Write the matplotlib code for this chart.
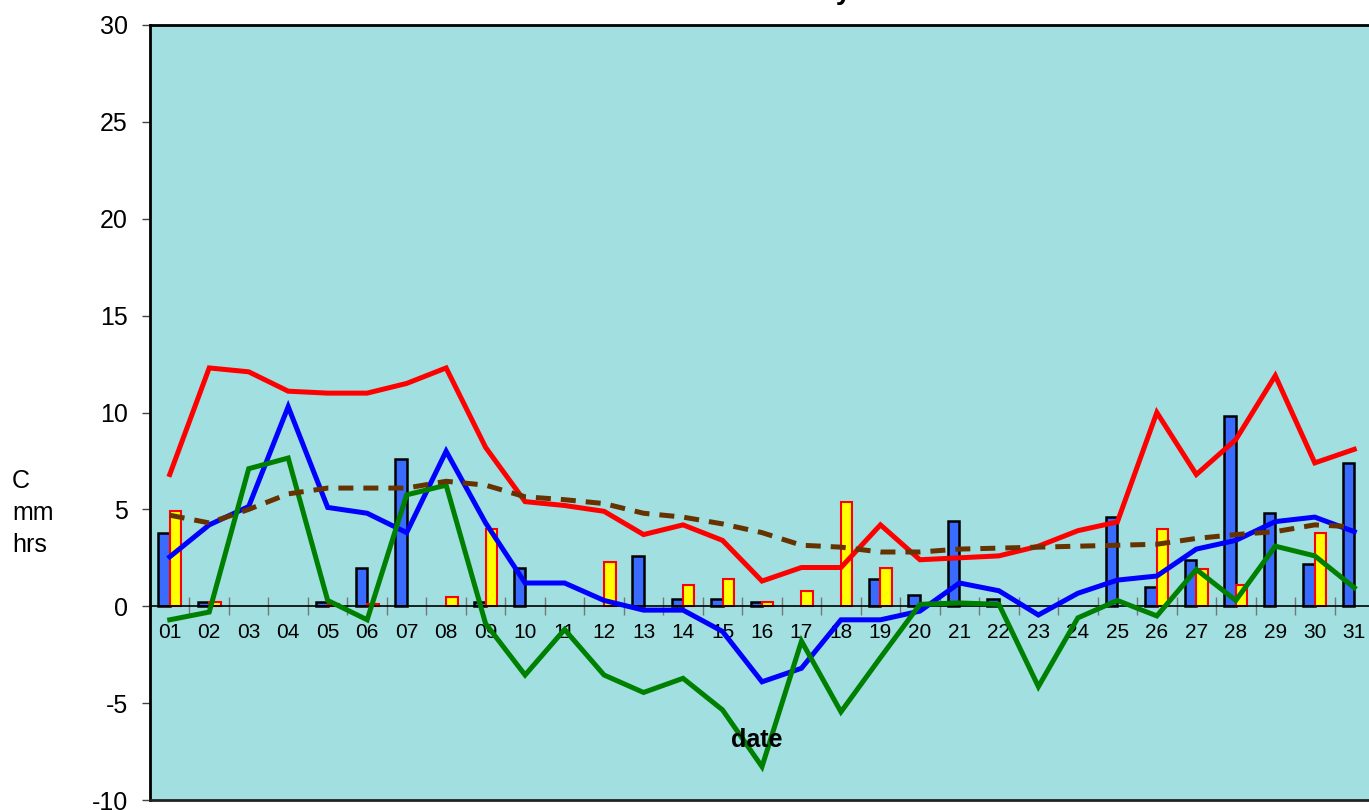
import matplotlib
matplotlib.use("Agg")
import matplotlib.pyplot as plt
import numpy as np

plt.rcParams['font.family'] = ['Liberation Sans', 'DejaVu Sans']
plt.rcParams['axes.unicode_minus'] = False

days = ["01", "02", "03", "04", "05", "06", "07", "08", "09", "10",
        "11", "12", "13", "14", "15", "16", "17", "18", "19", "20",
        "21", "22", "23", "24", "25", "26", "27", "28", "29", "30", "31"]

temp_max = [6.8, 12.3, 12.1, 11.1, 11.0, 11.0, 11.5, 12.3, 8.2, 5.4,
            5.2, 4.9, 3.7, 4.2, 3.4, 1.3, 2.0, 2.0, 4.2, 2.4,
            2.5, 2.6, 3.1, 3.9, 4.35, 10.0, 6.8, 8.6, 11.9, 7.4, 8.1]
temp_mean = [2.55, 4.2, 5.15, 10.3, 5.1, 4.8, 3.8, 8.0, 4.3, 1.2,
             1.2, 0.3, -0.2, -0.2, -1.3, -3.9, -3.2, -0.7, -0.7, -0.25,
             1.2, 0.8, -0.45, 0.67, 1.35, 1.56, 2.95, 3.4, 4.37, 4.6, 3.85]
temp_min = [-0.7, -0.3, 7.1, 7.65, 0.3, -0.7, 5.75, 6.25, -0.9, -3.55,
            -1.2, -3.55, -4.45, -3.72, -5.35, -8.28, -1.8, -5.45, -2.65, 0.1,
            0.17, 0.1, -4.15, -0.6, 0.3, -0.5, 1.9, 0.3, 3.1, 2.6, 0.96]
temp_avg = [4.7, 4.3, 5.0, 5.8, 6.1, 6.1, 6.1, 6.45, 6.25, 5.65,
            5.5, 5.3, 4.8, 4.6, 4.25, 3.8, 3.15, 3.05, 2.8, 2.8,
            2.95, 3.0, 3.05, 3.1, 3.15, 3.2, 3.5, 3.7, 3.85, 4.2, 4.1]
rain_mm = [3.8, 0.2, 0, 0, 0.2, 2.0, 7.6, 0, 0.2, 2.0,
           0, 0, 2.6, 0.4, 0.4, 0.2, 0, 0, 1.4, 0.6,
           4.4, 0.4, 0, 0, 4.6, 1.0, 2.4, 9.8, 4.8, 2.2, 7.4]
sun_hrs = [4.9, 0.2, 0, 0, 0.1, 0.1, 0, 0.5, 4.0, 0,
           0, 2.3, 0, 1.1, 1.4, 0.2, 0.8, 5.4, 2.0, 0,
           0, 0, 0, 0, 0, 4.0, 1.9, 1.1, 0, 3.8, 0]

W, H = 1369, 810
fig = plt.figure(figsize=(W / 100, H / 100), dpi=100)
ax = fig.add_axes([150 / W, 10 / H, 1224 / W, 775 / H])
bg = '#A1DFE0'
ax.set_facecolor(bg)

x = np.arange(len(days))
rain = np.array(rain_mm)
sun = np.array(sun_hrs)
bw = 0.29
mr = rain > 0
ms = sun > 0
ax.bar(x[mr] - bw / 2, rain[mr], width=bw, color='#3A6BFF', edgecolor='black',
       linewidth=1.8, zorder=2)
ax.bar(x[ms] + bw / 2, sun[ms], width=bw, color='#FFFF00', edgecolor='#FF0000',
       linewidth=1.5, zorder=2)

lw = 3.6
ax.plot(x, temp_mean, color='#0000FF', lw=lw, zorder=4, solid_joinstyle='miter')
ax.plot(x, temp_min, color='#008000', lw=lw, zorder=4, solid_joinstyle='miter')
ax.plot(x, temp_max, color='#FF0000', lw=lw, zorder=4, solid_joinstyle='miter')
ln, = ax.plot(x, temp_avg, color='#663300', lw=lw, zorder=5)
ln.set_dashes([3.0, 2.0])

ax.set_xlim(-0.5, len(days) - 0.5)
ax.set_ylim(-10, 30)
ax.set_yticks(np.arange(-10, 31, 5))
ax.tick_params(axis='y', direction='out', length=6, width=1, color='#444444',
               labelsize=18, pad=10)

ax.set_xticks(np.arange(len(days) + 1) - 0.5)
ax.set_xticklabels([])
ax.set_xticks(x, minor=True)
ax.set_xticklabels(days, minor=True)
ax.tick_params(axis='x', which='major', direction='inout', length=13, width=1,
               color='#777777')
ax.tick_params(axis='x', which='minor', length=0, labelsize=15, pad=12)

ax.spines['bottom'].set_position(('data', 0))
ax.spines['bottom'].set_linewidth(1.2)
ax.spines['bottom'].set_zorder(3)
ax.spines['left'].set_linewidth(2)
ax.spines['top'].set_linewidth(2)
ax.spines['right'].set_linewidth(2)
ax.axhline(-10, color='#222222', lw=2, clip_on=False, zorder=6)

fig.text(757 / W, 1 - 740 / H, 'date', ha='center', va='center',
         fontsize=18, fontweight='bold')
fig.text(12 / W, 1 - 513 / H, 'C\nmm\nhrs', ha='left', va='center',
         fontsize=18, linespacing=1.4)
fig.text(852 / W, 1 + 1 / H, 'January', ha='right', va='baseline',
         fontsize=20, fontweight='bold')

fig.savefig('out.png', dpi=100)
